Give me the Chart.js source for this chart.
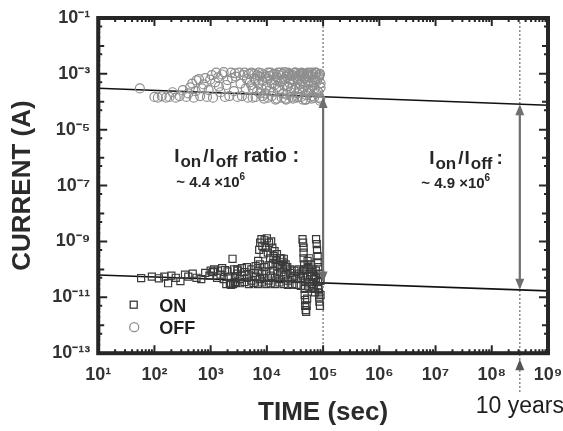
<!DOCTYPE html>
<html>
<head>
<meta charset="utf-8">
<script src="https://cdn.jsdelivr.net/npm/chart.js@4.4.4/dist/chart.umd.min.js"></script>
<style>
  html, body { margin: 0; padding: 0; background: #fff; }
  canvas { display: block; }
</style>
</head>
<body>
<canvas id="c" width="563" height="431"></canvas>
<script>
// axis ticks
const xTicks = [1e1, 1e2, 1e3, 1e4, 1e5, 1e6, 1e7, 1e8, 1e9]
const yTicks = [1e-13, 1e-11, 1e-9, 1e-7, 1e-5, 1e-3, 1e-1]

// "OFF" (circles, upper band) - time in sec, current in A
const offTime = [
  55, 100, 115, 135, 160, 185, 210, 240, 280, 320, 370, 430, 500, 560, 650, 750, 860, 980, 1100, 1250, 1400, 1600, 1800, 2000, 2300, 2600,
  400, 470, 540, 620, 700, 800, 920, 1050, 1200, 1350, 1500, 1700, 1900, 2150, 2400, 2700,
  2800, 3000, 3200, 3400, 3600, 3800, 4000, 4200, 4400, 4600, 4800, 5000,
  5300, 5600, 6000, 6300, 6700, 7100, 7500, 8000, 8400, 8900, 9400, 10000,
  10500, 11000, 11600, 12200, 12900, 13600, 14300, 15000, 15800, 16600, 17500, 18400,
  19400, 20400, 21500, 22600, 23800, 25000, 26300, 27700, 29100, 30600, 32200, 33900,
  35700, 37500, 39500, 41500, 43700, 46000, 48400, 50900, 53500, 56300, 59200, 62300,
  65500, 68900, 72500, 76300, 80200, 84400, 88000, 90000,
  5300, 5600, 6000, 6300, 6700, 7100, 7500, 8000, 8400, 8900, 9400, 10000,
  10500, 11000, 11600, 12200, 12900, 13600, 14300, 15000, 15800, 16600, 17500, 18400,
  19400, 20400, 21500, 22600, 23800, 25000, 26300, 27700, 29100, 30600, 32200, 33900,
  35700, 37500, 39500, 41500, 43700, 46000, 48400, 50900, 53500, 56300, 59200, 62300,
  65500, 68900, 72500, 76300, 80200, 84400, 88000, 90000,
  20000, 22000, 24400, 27000, 30000, 31500, 34800, 36600, 38500, 40500, 42600, 44800, 47200,
  49600, 52200, 54900, 57700, 60700, 63900, 67200, 70700, 74400, 78200, 82300, 86200, 89000
]
const offCurrent = [
  3.0e-4, 1.5e-4, 1.4e-4, 1.6e-4, 1.4e-4, 1.5e-4, 2.2e-4, 1.4e-4, 1.6e-4, 2.6e-4, 1.5e-4, 3.3e-4, 1.4e-4, 5.8e-4, 1.6e-4, 4.2e-4, 1.5e-4, 6.2e-4, 1.4e-4, 1.1e-3, 3.5e-4, 9.5e-4, 1.5e-4, 6.0e-4, 1.1e-3, 2.4e-4,
  2.0e-4, 4.5e-4, 2.4e-4, 6.5e-4, 3.0e-4, 7.0e-4, 2.6e-4, 9.0e-4, 5.0e-4, 7.5e-4, 2.2e-4, 1.15e-3, 4.0e-4, 1.6e-4, 7.0e-4, 1.05e-3,
  8.0e-4, 1.5e-4, 1.1e-3, 4.5e-4, 1.6e-4, 9.0e-4, 1.1e-3, 3.0e-4, 6.5e-4, 1.4e-4, 1.0e-3, 5.0e-4,
  1.1e-3, 3.0e-4, 7.0e-4, 1.5e-4, 9.0e-4, 4.5e-4, 2.0e-4, 1.05e-3, 5.5e-4, 1.3e-4, 8.0e-4, 3.5e-4,
  1.1e-3, 2.5e-4, 6.0e-4, 1.6e-4, 9.5e-4, 4.0e-4, 1.2e-4, 7.5e-4, 1.1e-3, 2.8e-4, 5.0e-4, 1.4e-4,
  1.0e-3, 3.8e-4, 6.5e-4, 1.8e-4, 1.1e-3, 4.8e-4, 2.2e-4, 8.5e-4, 1.3e-4, 1.05e-3, 3.2e-4, 6.8e-4,
  1.5e-4, 9.0e-4, 4.2e-4, 1.1e-3, 2.6e-4, 7.2e-4, 1.2e-4, 1.0e-3, 5.2e-4, 2.0e-4, 8.8e-4, 1.1e-3,
  3.6e-4, 1.4e-4, 6.2e-4, 1.05e-3, 2.4e-4, 8.0e-4, 1.1e-4, 4.6e-4,
  4.0e-4, 1.4e-4, 1.0e-3, 6.0e-4, 2.4e-4, 1.1e-3, 8.0e-4, 3.0e-4, 1.6e-4, 9.5e-4, 2.0e-4, 6.8e-4,
  1.4e-4, 8.5e-4, 1.1e-3, 4.5e-4, 2.2e-4, 1.0e-3, 6.0e-4, 1.3e-4, 3.4e-4, 9.0e-4, 1.1e-3, 5.6e-4,
  2.0e-4, 1.15e-3, 1.3e-4, 7.8e-4, 3.6e-4, 1.0e-3, 6.4e-4, 1.5e-4, 9.0e-4, 2.6e-4, 1.1e-3, 1.4e-4,
  7.0e-4, 3.0e-4, 1.05e-3, 5.4e-4, 1.2e-4, 9.5e-4, 4.0e-4, 1.7e-4, 1.1e-3, 7.6e-4, 2.8e-4, 1.3e-4,
  9.8e-4, 5.0e-4, 1.1e-3, 2.0e-4, 7.0e-4, 1.4e-4, 1.0e-3, 3.2e-4,
  6.5e-4, 1.2e-4, 9.0e-4, 3.0e-4, 5.8e-4, 1.1e-3, 2.0e-4, 8.2e-4, 4.4e-4, 1.5e-4, 1.0e-3, 3.4e-4, 6.6e-4,
  1.2e-4, 8.5e-4, 2.6e-4, 1.05e-3, 4.8e-4, 1.6e-4, 7.4e-4, 3.0e-4, 1.1e-3, 5.5e-4, 2.2e-4, 9.0e-4, 1.3e-4
]

// "ON" (squares, lower band)
const onTime = [
  58, 90, 120, 150, 175, 200, 240, 290, 350, 400, 480, 560, 680, 800, 950, 1100, 1300, 1500, 1700, 1900, 2100, 2450,
  1000, 1150, 1350, 1600, 1800, 2000, 2200, 2300, 2500, 2600, 2800, 3000,
  2700, 3000, 3300, 3600, 4000, 4400, 4800, 5300, 5800, 6300, 6900, 7500, 8200, 9000, 9800, 10700, 11700, 12800, 14000, 15300,
  16700, 18200, 19900, 21700, 23700, 25900, 28300, 30900, 33700, 36800, 40200, 43900, 47900, 52300, 57100, 62400, 68100, 74400, 81200, 88000,
  2700, 3000, 3300, 3600, 4000, 4400, 4800, 5300, 5800, 6300, 6900, 7500, 8200, 9000, 9800, 10700, 11700, 12800, 14000, 15300,
  16700, 18200, 19900, 21700, 23700, 25900, 28300, 30900, 33700, 36800, 40200, 43900, 47900, 52300, 57100, 62400, 68100, 74400, 81200, 88000,
  7000, 7300, 7600, 8000, 8300, 8700, 9100, 9500, 10000, 10400, 10900, 11400, 11900, 12500, 13100, 13700, 14400, 15100, 16000, 17000, 18000, 19000, 20000, 21500, 23000,
  43000, 44000, 45000, 45000, 45000, 46000, 46000, 47000, 47000, 48000, 48000, 49000, 50000, 51000, 52000,
  53000, 55000, 57000, 59000, 61000, 63000, 65000, 67000, 70000, 72000,
  75000, 77000, 78000, 80000, 80000, 82000, 82000, 84000, 85000, 86000, 88000, 90000, 90000
]
const onCurrent = [
  4.9e-11, 5.5e-11, 4.8e-11, 5.5e-11, 3.2e-11, 6e-11, 5e-11, 3.8e-11, 6.5e-11, 5.5e-11, 7e-11, 5e-11, 4.5e-11, 7.5e-11, 6e-11, 8e-11, 5e-11, 6.5e-11, 4.5e-11, 3e-11, 5.5e-11, 2.4e-10,
  9e-11, 1e-10, 9e-11, 1.1e-10, 9.5e-11, 8.5e-11, 3.2e-11, 2.8e-11, 3e-11, 1e-10, 3.3e-11, 9e-11,
  5e-11, 7e-11, 4.5e-11, 6e-11, 8e-11, 5e-11, 6.5e-11, 4e-11, 7.5e-11, 5.5e-11, 9e-11, 4.5e-11, 7e-11, 5e-11, 8.5e-11, 4e-11, 6e-11, 9e-11, 5e-11, 7e-11,
  4.5e-11, 8e-11, 5.5e-11, 6.5e-11, 4e-11, 7.5e-11, 5e-11, 6e-11, 4.5e-11, 7e-11, 5e-11, 6e-11, 4e-11, 5.5e-11, 3.5e-11, 6e-11, 4.5e-11, 5e-11, 3.5e-11, 4e-11,
  3.5e-11, 1e-10, 3.2e-11, 1.1e-10, 3.5e-11, 1.2e-10, 3e-11, 1e-10, 3.3e-11, 1.3e-10, 3e-11, 1.5e-10, 3.4e-11, 1.2e-10, 3e-11, 1.4e-10, 3.2e-11, 1.6e-10, 3e-11, 1.3e-10,
  3.4e-11, 1.1e-10, 3e-11, 1.2e-10, 2.8e-11, 1e-10, 3e-11, 9e-11, 2.8e-11, 1e-10, 2.6e-11, 9e-11, 2.5e-11, 1e-10, 2.4e-11, 8e-11, 2.2e-11, 9e-11, 2e-11, 7e-11,
  2e-10, 5e-10, 9e-10, 1.2e-9, 7e-10, 3.5e-10, 1.1e-9, 6e-10, 1.3e-9, 4e-10, 9e-10, 2.5e-10, 1.0e-9, 6e-10, 3e-10, 4.5e-10, 2.2e-10, 3.5e-10, 1.5e-10, 2.5e-10, 2.5e-10, 1.8e-10, 2.4e-10, 1.5e-10, 1.2e-10,
  1.2e-9, 9e-10, 6e-10, 4e-10, 2.5e-10, 1.5e-10, 1e-10, 2e-11, 1.2e-11, 8e-12, 5e-12, 3.5e-12, 3e-12, 5e-12, 9e-12,
  2e-10, 1.2e-10, 2.5e-10, 8e-11, 1.5e-10, 3e-11, 1e-10, 2e-11, 6e-11, 1.5e-11,
  1.2e-9, 8e-10, 5e-10, 3e-10, 1.8e-10, 1.2e-10, 2.5e-11, 1.5e-11, 1e-11, 7e-12, 5e-12, 1.2e-11, 4e-11
]

// fitted trend lines, extrapolated to 1e9 s
const fitTime = [10, 1e9]
const fitHigh = [3.05e-4, 7.5e-5]
const fitLow = [6.3e-11, 1.7e-11]

// ratio markers: end of measurement and 10 years
const markerTime = [1e5, 3.15e8]
const markerTop = [1.5e-4, 8.2e-5]
const markerBottom = [3.4e-11, 1.85e-11]

const FONT = '"Liberation Sans", Arial, sans-serif'
const SUP = {'-': '⁻', '0': '⁰', '1': '¹', '2': '²', '3': '³', '4': '⁴', '5': '⁵', '6': '⁶', '7': '⁷', '8': '⁸', '9': '⁹'}
const pow10 = (v) => '10' + String(Math.round(Math.log10(v))).split('').map((c) => SUP[c]).join('')
const zip = (xs, ys) => xs.map((x, i) => ({x, y: ys[i]}))

function rich(ctx, x, y, parts) {
  for (const p of parts) {
    ctx.font = `bold ${p.s}px ${FONT}`
    ctx.fillText(p.t, x, y + (p.dy || 0))
    x += ctx.measureText(p.t).width + (p.gap || 0)
  }
}

function head(ctx, x, y, dir) {
  // tip at (x, y); dir -1 points up, +1 points down
  ctx.beginPath()
  ctx.moveTo(x, y)
  ctx.lineTo(x - 4.5, y - dir * 11)
  ctx.lineTo(x + 4.5, y - dir * 11)
  ctx.closePath()
  ctx.fill()
}

const deco = {
  id: 'deco',
  beforeDatasetsDraw(chart) {
    const {ctx, chartArea: a, scales: {x}} = chart
    ctx.save()
    ctx.strokeStyle = '#8a8a8a'
    ctx.lineWidth = 1.5
    ctx.setLineDash([2, 2])
    markerTime.forEach((t, i) => {
      const px = x.getPixelForValue(t)
      ctx.beginPath()
      ctx.moveTo(px, a.top)
      ctx.lineTo(px, i === 1 ? a.bottom + 40 : a.bottom)
      ctx.stroke()
    })
    ctx.restore()
  },
  afterDraw(chart) {
    const {ctx, chartArea: a, scales: {x, y}} = chart
    ctx.save()

    // double arrows between the two trend lines
    ctx.strokeStyle = '#6f6f6f'
    ctx.fillStyle = '#6f6f6f'
    ctx.lineWidth = 2.2
    markerTime.forEach((t, i) => {
      const px = x.getPixelForValue(t)
      const y1 = y.getPixelForValue(markerTop[i])
      const y2 = y.getPixelForValue(markerBottom[i])
      ctx.beginPath()
      ctx.moveTo(px, y1 + 8)
      ctx.lineTo(px, y2 - 8)
      ctx.stroke()
      head(ctx, px, y1, -1)
      head(ctx, px, y2, 1)
    })
    // small arrow under the axis at 10 years
    const p10 = x.getPixelForValue(markerTime[1])
    ctx.fillStyle = '#555'
    head(ctx, p10, a.bottom + 6, -1)

    // frame
    ctx.strokeStyle = '#262626'
    ctx.lineWidth = 4
    ctx.strokeRect(a.left, a.top, a.right - a.left, a.bottom - a.top)

    // inward ticks
    ctx.lineWidth = 2
    ctx.beginPath()
    for (let e = 1; e <= 9; e++) {
      for (let m = 1; m <= 9; m++) {
        const v = m * Math.pow(10, e)
        if (v > 1e9) break
        const px = x.getPixelForValue(v)
        const len = m === 1 ? 8 : 4
        ctx.moveTo(px, a.bottom); ctx.lineTo(px, a.bottom - len)
        ctx.moveTo(px, a.top); ctx.lineTo(px, a.top + len)
      }
    }
    for (let e = -13; e <= -1; e++) {
      for (let m = 1; m <= 9; m++) {
        const v = m * Math.pow(10, e)
        if (v > 1e-1) break
        const py = y.getPixelForValue(v)
        const len = m === 1 ? (e % 2 !== 0 ? 9 : 6) : (m === 5 ? 4 : 2)
        ctx.moveTo(a.left, py); ctx.lineTo(a.left + len, py)
        ctx.moveTo(a.right, py); ctx.lineTo(a.right - len, py)
      }
    }
    ctx.stroke()

    // annotations
    ctx.fillStyle = '#262626'
    ctx.textBaseline = 'alphabetic'
    const l = a.left, t = a.top
    rich(ctx, l + 76, t + 144, [
      {t: 'I', s: 19, gap: 1}, {t: 'on', s: 17, dy: 5, gap: 2}, {t: '/', s: 19, gap: 1},
      {t: 'I', s: 19, gap: 1}, {t: 'off', s: 17, dy: 5, gap: 6}, {t: 'ratio :', s: 20}
    ])
    rich(ctx, l + 78, t + 169, [{t: '~ 4.4 ×10', s: 15}, {t: '6', s: 10, dy: -7}])
    rich(ctx, l + 331, t + 146, [
      {t: 'I', s: 19, gap: 1}, {t: 'on', s: 17, dy: 5, gap: 2}, {t: '/', s: 19, gap: 1},
      {t: 'I', s: 19, gap: 1}, {t: 'off', s: 17, dy: 5, gap: 4}, {t: ':', s: 19}
    ])
    rich(ctx, l + 323, t + 170, [{t: '~ 4.9 ×10', s: 15}, {t: '6', s: 10, dy: -7}])

    // legend inside plot
    const ds = chart.data.datasets
    ctx.lineWidth = 1.3
    ctx.strokeStyle = ds[0].borderColor
    ctx.strokeRect(l + 32, a.bottom - 52, 7, 7)
    ctx.strokeStyle = ds[1].borderColor
    ctx.beginPath()
    ctx.arc(l + 36, a.bottom - 26, 4.5, 0, Math.PI * 2)
    ctx.stroke()
    ctx.fillStyle = '#1e1e1e'
    ctx.font = `bold 18px ${FONT}`
    ctx.fillText(ds[0].label, l + 61, a.bottom - 41)
    ctx.fillText(ds[1].label, l + 61, a.bottom - 19)

    // 10 years label
    ctx.font = `23px ${FONT}`
    ctx.textAlign = 'center'
    ctx.fillStyle = '#1e1e1e'
    ctx.fillText('10 years', p10, a.bottom + 60)
    ctx.restore()
  }
}

new Chart(document.getElementById('c'), {
  type: 'scatter',
  data: {
    datasets: [
      {label: 'ON', data: zip(onTime, onCurrent), pointStyle: 'rect', pointRadius: 5, borderColor: '#3a3a3a', backgroundColor: 'rgba(255,255,255,0)', borderWidth: 1.2},
      {label: 'OFF', data: zip(offTime, offCurrent), pointStyle: 'circle', pointRadius: 4.5, borderColor: '#8e8e8e', backgroundColor: 'rgba(255,255,255,0)', borderWidth: 1.2},
      {type: 'line', label: 'fit high', data: zip(fitTime, fitHigh), borderColor: '#111', borderWidth: 1.6, pointRadius: 0},
      {type: 'line', label: 'fit low', data: zip(fitTime, fitLow), borderColor: '#111', borderWidth: 1.6, pointRadius: 0}
    ]
  },
  options: {
    responsive: false,
    animation: false,
    layout: {padding: {left: 7, right: 15, top: 18, bottom: 3}},
    scales: {
      x: {
        type: 'logarithmic', min: 10, max: 1e9,
        afterBuildTicks: (s) => { s.ticks = xTicks.map((v) => ({value: v})) },
        afterFit: (s) => { s.paddingLeft = 0; s.paddingRight = 0 },
        grid: {display: false, drawTicks: false},
        border: {display: false},
        ticks: {callback: (v) => pow10(v), font: {family: FONT, size: 18, weight: 'bold'}, color: '#333', padding: 11, maxRotation: 0, autoSkip: false},
        title: {display: true, text: 'TIME (sec)', font: {family: FONT, size: 26, weight: 'bold'}, color: '#2b2b2b', padding: {top: 0, bottom: 0}}
      },
      y: {
        type: 'logarithmic', min: 1e-13, max: 1e-1,
        afterBuildTicks: (s) => { s.ticks = yTicks.map((v) => ({value: v})) },
        afterFit: (s) => { s.paddingTop = 0; s.paddingBottom = 0 },
        grid: {display: false, drawTicks: false},
        border: {display: false},
        ticks: {callback: (v) => pow10(v), font: {family: FONT, size: 18, weight: 'bold'}, color: '#333', padding: 8, autoSkip: false},
        title: {display: true, text: 'CURRENT (A)', font: {family: FONT, size: 26, weight: 'bold'}, color: '#2b2b2b', padding: {top: 0, bottom: 6}}
      }
    },
    plugins: {legend: {display: false}, tooltip: {enabled: false}}
  },
  plugins: [deco]
})
</script>
</body>
</html>
